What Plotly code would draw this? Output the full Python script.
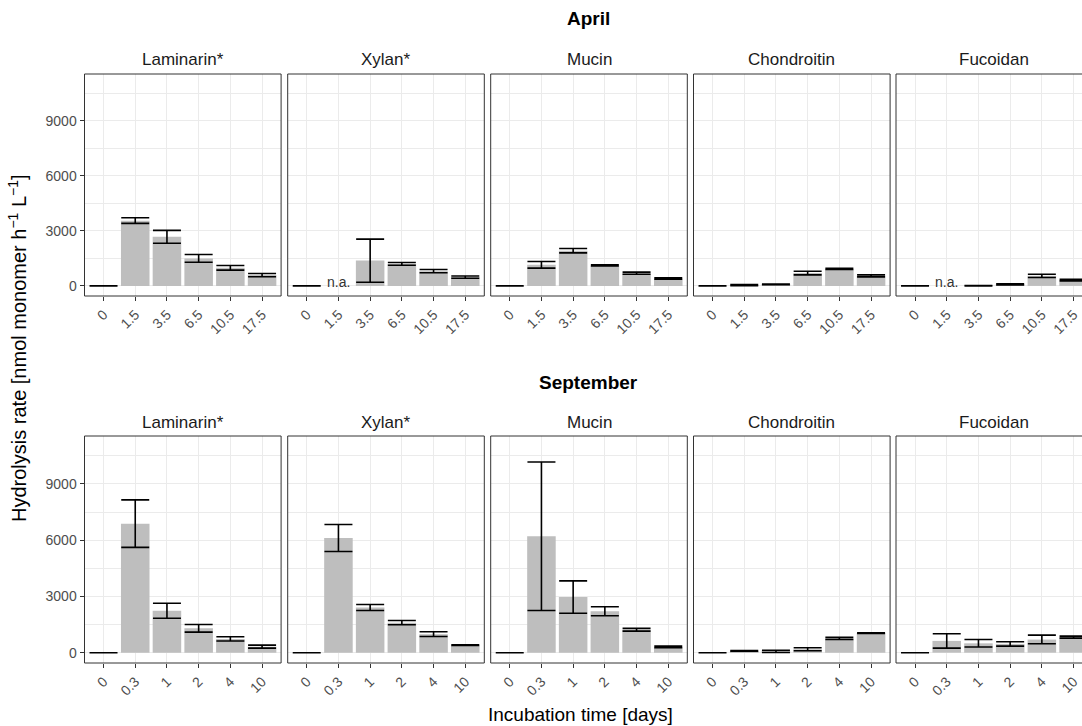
import plotly.graph_objects as go

# ---------------- data ----------------
substrates = ["Laminarin*", "Xylan*", "Mucin", "Chondroitin", "Fucoidan"]
april_times = ["0", "1.5", "3.5", "6.5", "10.5", "17.5"]
sept_times = ["0", "0.3", "1", "2", "4", "10"]

# mean hydrolysis rates (rows follow `substrates`), None = n.a.
apr_mean = [
    [0, 3560, 2680, 1500, 985, 590],
    [0, None, 1380, 1200, 800, 480],
    [0, 1150, 1920, 1120, 690, 400],
    [0, 40, 80, 700, 930, 550],
    [0, None, 10, 80, 550, 320],
]
apr_low = [
    [0, 3410, 2330, 1295, 860, 500],
    [0, None, 200, 1130, 715, 420],
    [0, 970, 1800, 1090, 640, 365],
    [0, 10, 60, 605, 895, 495],
    [0, None, 0, 50, 460, 275],
]
apr_high = [
    [0, 3720, 3030, 1715, 1110, 680],
    [0, None, 2550, 1280, 895, 545],
    [0, 1330, 2040, 1150, 750, 440],
    [0, 70, 100, 800, 965, 605],
    [0, None, 20, 110, 640, 365],
]
sep_mean = [
    [0, 6880, 2240, 1300, 735, 320],
    [0, 6120, 2410, 1600, 990, 400],
    [0, 6210, 2970, 2210, 1220, 310],
    [0, 100, 70, 185, 760, 1045],
    [0, 630, 500, 470, 700, 830],
]
sep_low = [
    [0, 5620, 1840, 1095, 620, 245],
    [0, 5400, 2250, 1490, 865, 380],
    [0, 2250, 2105, 1970, 1150, 265],
    [0, 80, 10, 105, 705, 1030],
    [0, 245, 300, 350, 480, 775],
]
sep_high = [
    [0, 8150, 2640, 1505, 850, 405],
    [0, 6840, 2570, 1720, 1115, 420],
    [0, 10175, 3830, 2450, 1295, 350],
    [0, 120, 130, 265, 815, 1065],
    [0, 1010, 705, 585, 935, 885],
]
months = ["April", "September"]
y_ticks = [0, 3000, 6000, 9000]

# ---------------- layout geometry (pixels) ----------------
W, H = 1082, 726
col_left = [84.5, 287.7, 490.7, 693.5, 896.0]
panel_w = 196.6
row_top = [74.0, 436.0]
row_bot = [296.0, 663.0]
unit_px = panel_w / 6.2

FONT = "Liberation Sans, Arial, sans-serif"
GRID = "#EBEBEB"
BORDER = "#333333"

def px(x):
    return x / W

def py(y):
    return 1 - y / H

fig = go.Figure()
layout = {}
annotations = []
shapes = []

rows = [
    (april_times, apr_mean, apr_low, apr_high),
    (sept_times, sep_mean, sep_low, sep_high),
]

for r, (times, means, lows, highs) in enumerate(rows):
    for c, sub in enumerate(substrates):
        k = r * 5 + c + 1
        xa, ya = f"x{k}", f"y{k}"
        m, lo, hi = means[c], lows[c], highs[c]
        plus = [None if v is None else h - v for v, h in zip(m, hi)]
        minus = [None if v is None else v - l for v, l in zip(m, lo)]
        fig.add_trace(go.Bar(
            x=times, y=m, xaxis=xa, yaxis=ya, width=0.9,
            marker=dict(color="#BEBEBE", line=dict(width=0)),
            error_y=dict(type="data", symmetric=False, array=plus, arrayminus=minus,
                         color="black", thickness=1.6, width=14),
            showlegend=False, hoverinfo="skip",
        ))
        x0 = col_left[c]
        x1 = min(x0 + panel_w, W)
        xmax = -0.6 + (x1 - x0) / unit_px
        layout[f"xaxis{k}"] = dict(
            domain=[px(x0), px(x1)], anchor=ya, type="category",
            categoryorder="array", categoryarray=times, range=[-0.6, xmax],
            showgrid=True, gridcolor=GRID, gridwidth=1.1, zeroline=False,
            ticks="outside", ticklen=4, tickwidth=1, tickcolor=BORDER,
            tickangle=-45, tickfont=dict(size=14, color="#4D4D4D", family=FONT),
            showline=False, fixedrange=True,
        )
        layout[f"yaxis{k}"] = dict(
            domain=[py(row_bot[r]), py(row_top[r])], anchor=xa,
            range=[-550, 11560], tickvals=y_ticks,
            showticklabels=(c == 0), ticks="outside" if c == 0 else "",
            ticklen=4, tickwidth=1, tickcolor=BORDER,
            tickfont=dict(size=14, color="#4D4D4D", family=FONT),
            showgrid=True, gridcolor=GRID, gridwidth=1.1, zeroline=False,
            minor=dict(tickvals=[1500, 4500, 7500, 10500], showgrid=True,
                       gridcolor=GRID, gridwidth=0.6),
            showline=False, fixedrange=True,
        )
        # panel border
        shapes.append(dict(type="rect", xref="paper", yref="paper",
                           x0=px(x0), x1=px(x0 + panel_w), y0=py(row_bot[r]), y1=py(row_top[r]),
                           line=dict(color=BORDER, width=1), fillcolor="rgba(0,0,0,0)",
                           layer="above"))
        # strip title
        annotations.append(dict(text=sub, xref="paper", yref="paper",
                                x=px(x0 + panel_w / 2), y=py(row_top[r] - 14),
                                xanchor="center", yanchor="middle", showarrow=False,
                                font=dict(size=17, color="#1A1A1A", family=FONT)))
        # n.a. labels (placed at the category index)
        for i, v in enumerate(m):
            if v is None:
                annotations.append(dict(text="n.a.", xref=xa, yref=ya, x=i, y=230,
                                        xanchor="center", yanchor="middle", showarrow=False,
                                        font=dict(size=14, color="#333333", family=FONT)))

# month titles
for r, month in enumerate(months):
    annotations.append(dict(text=f"<b>{month}</b>", xref="paper", yref="paper",
                            x=px(588), y=py(18 if r == 0 else 383),
                            xanchor="center", yanchor="middle", showarrow=False,
                            font=dict(size=19, color="black", family=FONT)))

# axis titles
annotations.append(dict(text="Incubation time [days]", xref="paper", yref="paper",
                        x=px(580), y=py(714), xanchor="center", yanchor="middle",
                        showarrow=False, font=dict(size=19, color="black", family=FONT)))
annotations.append(dict(text="Hydrolysis rate [nmol monomer h<sup>−1</sup> L<sup>−1</sup>]",
                        xref="paper", yref="paper", x=px(18), y=py(348),
                        xanchor="center", yanchor="middle", textangle=-90,
                        showarrow=False, font=dict(size=20, color="black", family=FONT)))

fig.update_layout(
    width=W, height=H, margin=dict(l=0, r=0, t=0, b=0),
    paper_bgcolor="white", plot_bgcolor="white",
    font=dict(family=FONT), bargap=0.1,
    annotations=annotations, shapes=shapes, showlegend=False,
    **layout,
)

fig.write_html("out.html", config={"displayModeBar": False},
               post_script="document.body.style.margin='0px';")
